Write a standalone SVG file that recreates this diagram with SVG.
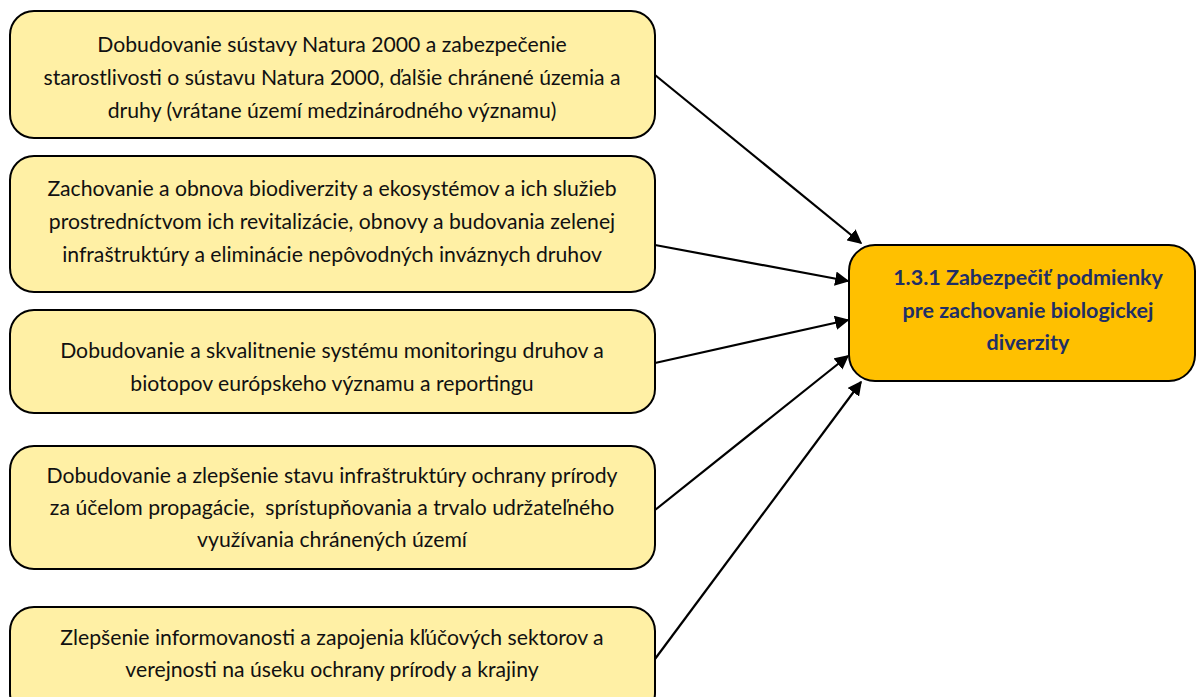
<svg xmlns="http://www.w3.org/2000/svg" width="1196" height="697" viewBox="0 0 1196 697">
  <style>
    .src rect { fill: #FFF0A5; stroke: #000; stroke-width: 2; }
    .src text { font-family: "Lato", "Liberation Sans", sans-serif; font-size: 21.2px; fill: #111; text-anchor: middle; }
    .goal rect { fill: #FFC000; stroke: #000; stroke-width: 2; }
    .goal text { font-family: "Lato", "Liberation Sans", sans-serif; font-weight: bold; font-size: 21.5px; fill: #1F2F66; text-anchor: middle; }
    .conn line { stroke: #000; stroke-width: 2.2; marker-end: url(#arrow); }
  </style>
  <defs>
    <marker id="arrow" viewBox="0 0 10 10" refX="9" refY="5" markerWidth="6.5" markerHeight="6.5" markerUnits="strokeWidth" orient="auto">
      <path d="M0,0 L10,5 L0,10 z" fill="#000"/>
    </marker>
  </defs>
  <rect width="1196" height="697" fill="#fff"/>

  <g id="connectors" class="conn">
    <line x1="655" y1="75" x2="861" y2="243"/>
    <line x1="655" y1="245" x2="848" y2="281"/>
    <line x1="655" y1="363" x2="848" y2="320"/>
    <line x1="655" y1="510" x2="848" y2="356"/>
    <line x1="655" y1="659" x2="861" y2="382"/>
  </g>

  <g id="node1" class="src">
    <rect x="10" y="11" width="645" height="127" rx="24"/>
    <text x="332" y="52">Dobudovanie sústavy Natura 2000 a zabezpečenie</text>
    <text x="332" y="85">starostlivosti o sústavu Natura 2000, ďalšie chránené územia a</text>
    <text x="332" y="118">druhy (vrátane území medzinárodného významu)</text>
  </g>

  <g id="node2" class="src">
    <rect x="10" y="156" width="645" height="136" rx="24"/>
    <text x="332" y="196">Zachovanie a obnova biodiverzity a ekosystémov a ich služieb</text>
    <text x="332" y="229">prostredníctvom ich revitalizácie, obnovy a budovania zelenej</text>
    <text x="332" y="262">infraštruktúry a eliminácie nepôvodných inváznych druhov</text>
  </g>

  <g id="node3" class="src">
    <rect x="10" y="310" width="645" height="103" rx="24"/>
    <text x="332" y="358">Dobudovanie a skvalitnenie systému monitoringu druhov a</text>
    <text x="332" y="391">biotopov európskeho významu a reportingu</text>
  </g>

  <g id="node4" class="src">
    <rect x="10" y="446" width="645" height="123" rx="24"/>
    <text x="332" y="483">Dobudovanie a zlepšenie stavu infraštruktúry ochrany prírody</text>
    <text x="332" y="515" xml:space="preserve">za účelom propagácie,  sprístupňovania a trvalo udržateľného</text>
    <text x="332" y="547">využívania chránených území</text>
  </g>

  <g id="node5" class="src">
    <rect x="10" y="607" width="645" height="110" rx="24"/>
    <text x="332" y="645">Zlepšenie informovanosti a zapojenia kľúčových sektorov a</text>
    <text x="332" y="677">verejnosti na úseku ochrany prírody a krajiny</text>
  </g>

  <g id="goal" class="goal">
    <rect x="849" y="245" width="346" height="136" rx="26"/>
    <text x="1028" y="285">1.3.1 Zabezpečiť podmienky</text>
    <text x="1028" y="318">pre zachovanie biologickej</text>
    <text x="1028" y="350">diverzity</text>
  </g>
</svg>
